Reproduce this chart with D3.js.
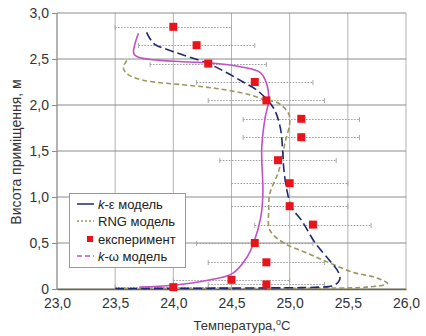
<!DOCTYPE html>
<html><head><meta charset="utf-8">
<script src="https://cdn.jsdelivr.net/npm/d3@7"></script>
<style>body{margin:0;background:#fff}svg{display:block;font-family:"Liberation Sans",Arial,sans-serif}</style>
</head><body><svg id="c" width="426" height="336"></svg>
<script>
// data
const xTicks = [23.0, 23.5, 24.0, 24.5, 25.0, 25.5, 26.0];
const yTicks = [0, 0.5, 1.0, 1.5, 2.0, 2.5, 3.0];
const expT = [24.0, 24.2, 24.3, 24.7, 24.8, 25.1, 25.1, 24.9, 25.0, 25.0, 25.2, 24.7, 24.8, 24.5, 24.8, 24.0];
const expH = [2.85, 2.65, 2.45, 2.25, 2.05, 1.85, 1.65, 1.40, 1.15, 0.90, 0.70, 0.50, 0.29, 0.10, 0.05, 0.02];
const expLo = [23.5, 23.7, 23.8, 24.2, 24.3, 24.6, 24.6, 24.4, 24.5, 24.5, 24.7, 24.2, 24.3, 24.0, 24.3, 23.5];
const expHi = [24.5, 24.7, 24.8, 25.2, 25.3, 25.6, 25.6, 25.4, 25.5, 25.5, 25.7, 25.2, 25.3, 25.0, 25.3, 24.5];
const keT = [23.5, 24.5, 25.1, 25.25, 25.38, 25.43, 25.42, 25.35, 25.22, 25.1, 25.02, 24.98, 24.95, 24.94, 24.92, 24.86, 24.72, 24.6, 24.46, 24.3, 24.0, 23.84, 23.8, 23.77];
const keH = [0.005, 0.01, 0.015, 0.02, 0.04, 0.1, 0.18, 0.3, 0.5, 0.75, 0.88, 1.05, 1.3, 1.5, 1.75, 1.97, 2.16, 2.25, 2.35, 2.45, 2.58, 2.66, 2.72, 2.79];
const rngT = [23.5, 25.3, 25.66, 25.84, 25.75, 25.55, 25.35, 25.15, 24.95, 24.83, 24.82, 24.83, 24.9, 24.93, 24.96, 25.0, 24.99, 24.89, 24.8, 24.66, 24.37, 24.08, 23.74, 23.6, 23.57, 23.61];
const rngH = [0.005, 0.01, 0.02, 0.06, 0.12, 0.18, 0.28, 0.39, 0.5, 0.64, 0.86, 1.04, 1.26, 1.4, 1.59, 1.8, 1.91, 2.03, 2.05, 2.11, 2.18, 2.22, 2.27, 2.34, 2.41, 2.5];
const kwT = [23.71, 24.0, 24.32, 24.51, 24.63, 24.69, 24.75, 24.77, 24.76, 24.76, 24.79, 24.82, 24.8, 24.75, 24.6, 24.3, 24.08, 23.7, 23.66, 23.7];
const kwH = [0.02, 0.04, 0.10, 0.17, 0.34, 0.5, 0.77, 1.04, 1.41, 1.54, 1.87, 2.05, 2.24, 2.35, 2.41, 2.46, 2.47, 2.52, 2.56, 2.78];
const legendLabels = ["k-ε модель", "RNG модель", "експеримент", "k-ω модель"];

const svg = d3.select("#c");
const L = 57, R = 406, T = 13, B = 289;
const x = d3.scaleLinear().domain([23, 26]).range([L, R]);
const y = d3.scaleLinear().domain([0, 3]).range([B, T]);
const fmt = v => v === 0 ? "0" : d3.format(".1f")(v).replace(".", ",");

// grid
svg.append("g").selectAll("line").data(xTicks).join("line")
  .attr("x1", d => x(d)).attr("x2", d => x(d)).attr("y1", T).attr("y2", B)
  .attr("stroke", "#b4b4b4").attr("stroke-width", 1);
svg.append("g").selectAll("line").data(yTicks).join("line")
  .attr("x1", L).attr("x2", R).attr("y1", d => y(d)).attr("y2", d => y(d))
  .attr("stroke", "#8c8c8c").attr("stroke-width", 1);
svg.append("line").attr("x1", L).attr("x2", L).attr("y1", T).attr("y2", B).attr("stroke", "#8c8c8c");

// y axis
const ya = svg.append("g").attr("transform", `translate(${L},0)`)
  .call(d3.axisLeft(y).tickValues(yTicks).tickFormat(fmt).tickSize(5).tickPadding(3));
ya.select(".domain").remove();
ya.selectAll("line").attr("stroke", "#8c8c8c");
ya.selectAll("text").attr("font-size", 14).attr("fill", "#333").attr("font-family", "Liberation Sans, Arial, sans-serif");

// x axis
const xa = svg.append("g").attr("transform", `translate(0,${B})`)
  .call(d3.axisBottom(x).tickValues(xTicks).tickFormat(fmt).tickSize(0).tickPadding(9));
xa.select(".domain").attr("stroke", "#6b6a3a").attr("stroke-width", 1.5);
xa.selectAll("text").attr("font-size", 14).attr("fill", "#333").attr("font-family", "Liberation Sans, Arial, sans-serif");

// error bars
const eb = svg.append("g");
expT.forEach((t, i) => {
  const yy = Math.round(y(expH[i])) + 0.5;
  eb.append("line").attr("x1", x(expLo[i])).attr("x2", x(expHi[i])).attr("y1", yy).attr("y2", yy)
    .attr("stroke", "#9a9a9a").attr("stroke-width", 1).attr("stroke-dasharray", "1.5,1.5");
  [expLo[i], expHi[i]].forEach(v => eb.append("line").attr("x1", x(v)).attr("x2", x(v))
    .attr("y1", yy - 2.5).attr("y2", yy + 2.5).attr("stroke", "#aaa").attr("stroke-width", 1));
});

const line = d3.line().curve(d3.curveCatmullRom.alpha(0.5));
function drawCurve(ts, hs, color, dash, w) {
  svg.append("path").attr("d", line(ts.map((t, i) => [x(t), y(hs[i])])))
    .attr("fill", "none").attr("stroke", color).attr("stroke-width", w)
    .attr("stroke-dasharray", dash);
}
drawCurve(rngT, rngH, "#9c9760", "5,3", 1.6);
drawCurve(keT, keH, "#1f2a6e", "9,4", 1.6);
drawCurve(kwT, kwH, "#c050c8", null, 1.6);

// experiment points
svg.append("g").selectAll("rect").data(expT).join("rect")
  .attr("x", (d) => x(d) - 4).attr("y", (d, i) => y(expH[i]) - 4)
  .attr("width", 8).attr("height", 8).attr("fill", "#e8141b");

// legend
const lg = svg.append("g");
lg.append("rect").attr("x", 69.5).attr("y", 193.5).attr("width", 116).attr("height", 74)
  .attr("fill", "#fff").attr("stroke", "#999");
const ly = [204, 221, 239, 256];
const lcol = ["#1f2a6e", "#9c9760", "#e8141b", "#c050c8"];
const ldash = [null, "2,2", null, "5,3"];
ly.forEach((yy, i) => {
  if (i === 2) {
    lg.append("rect").attr("x", 87).attr("y", yy - 3).attr("width", 6).attr("height", 6).attr("fill", lcol[i]);
  } else {
    lg.append("line").attr("x1", 77).attr("x2", 94).attr("y1", yy).attr("y2", yy)
      .attr("stroke", lcol[i]).attr("stroke-width", 1.5).attr("stroke-dasharray", ldash[i]);
  }
  const tx = lg.append("text").attr("x", 98).attr("y", yy + 4.5).attr("font-size", 13).attr("fill", "#222");
  const lab = legendLabels[i];
  if (lab.startsWith("k-")) {
    tx.append("tspan").attr("font-style", "italic").text("k");
    tx.append("tspan").text(lab.slice(1));
  } else tx.text(lab);
});

// axis titles
const xt = svg.append("text").attr("x", 242).attr("y", 330).attr("text-anchor", "middle")
  .attr("font-size", 13).attr("fill", "#333").text("Температура,");
xt.append("tspan").attr("dy", -5).attr("font-size", 9).text("o");
xt.append("tspan").attr("dy", 5).text("C");
svg.append("text").attr("transform", "translate(21,152) rotate(-90)").attr("text-anchor", "middle")
  .attr("font-size", 14).attr("fill", "#333").text("Висота приміщення, м");
</script></body></html>
